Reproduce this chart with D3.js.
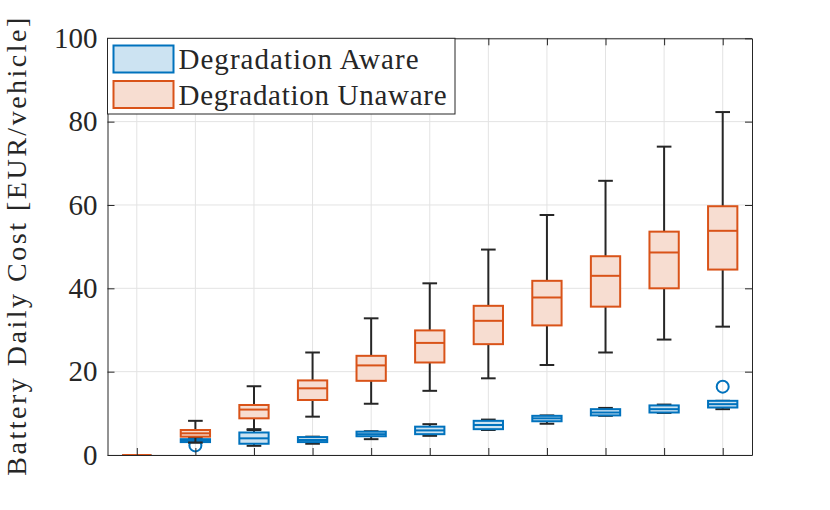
<!DOCTYPE html>
<html>
<head>
<meta charset="utf-8">
<script src="https://cdn.jsdelivr.net/npm/d3@7"></script>
<style>
  body { margin: 0; background: #fff; }
  text { font-family: "Liberation Serif", "Times New Roman", serif; fill: #262626; }
</style>
</head>
<body>
<div id="chart"></div>
<script>
// categories along x (no tick labels in the original)
const categories = [1, 2, 3, 4, 5, 6, 7, 8, 9, 10, 11];
const yTicks = [0, 20, 40, 60, 80, 100];
const seriesNames = ["Degradation Aware", "Degradation Unaware"];

// Degradation Aware
const awareMin = [0, 3.0, 2.2, 2.7, 3.8, 4.6, 6.0, 7.5, 9.4, 10.1, 11.0];
const awareQ1  = [0, 3.1, 2.7, 3.1, 4.5, 5.0, 6.2, 8.1, 9.5, 10.2, 11.4];
const awareMed = [0, 3.4, 4.0, 3.6, 5.0, 5.9, 7.2, 8.8, 10.2, 11.0, 12.2];
const awareQ3  = [0, 3.8, 5.4, 4.3, 5.6, 6.8, 8.2, 9.4, 11.0, 11.9, 13.0];
const awareMax = [0, 4.1, 6.0, 4.4, 5.7, 7.4, 8.5, 9.5, 11.3, 12.1, 13.0];
const awareOutCat = [2, 11];
const awareOutVal = [2.3, 16.4];

// Degradation Unaware
const unawareMin = [0, 3.0, 6.2, 9.2, 12.3, 15.4, 18.4, 21.6, 24.6, 27.7, 30.8];
const unawareQ1  = [0, 4.4, 8.8, 13.2, 17.8, 22.2, 26.6, 31.1, 35.6, 40.0, 44.5];
const unawareMed = [0, 5.2, 10.9, 16.0, 21.5, 26.9, 32.2, 37.8, 43.0, 48.6, 53.8];
const unawareQ3  = [0, 6.0, 12.0, 17.9, 23.8, 29.9, 35.8, 41.8, 47.7, 53.6, 59.7];
const unawareMax = [0, 8.2, 16.5, 24.6, 32.8, 41.2, 49.3, 57.6, 65.8, 74.0, 82.3];
const unawareOutCat = [];
const unawareOutVal = [];

const width = 830, height = 510;
const margin = {top: 38.3, right: 78, bottom: 55, left: 107.5};

const blue = "#0072BD", orange = "#D95319";
const blueFill = "#CCE3F2", orangeFill = "#F7DDD1";
const dark = "#262626";

const svg = d3.select("#chart").append("svg")
    .attr("width", width)
    .attr("height", height);

let x = d3.scaleLinear()
    .domain([0.5, 11.5])
    .range([margin.left, width - margin.right]);

let y = d3.scaleLinear()
    .domain([0, 100])
    .range([height - margin.bottom, margin.top]);

// grid
let grid = svg.append("g").attr("class", "grid");
grid.selectAll("line.gx")
    .data(categories)
    .enter().append("line")
    .attr("x1", d => x(d)).attr("x2", d => x(d))
    .attr("y1", y(0)).attr("y2", y(100))
    .attr("stroke", "#e3e3e3").attr("stroke-width", 1);
grid.selectAll("line.gy")
    .data(yTicks)
    .enter().append("line")
    .attr("x1", x(0.5)).attr("x2", x(11.5))
    .attr("y1", d => y(d)).attr("y2", d => y(d))
    .attr("stroke", "#e3e3e3").attr("stroke-width", 1);

function makeRows(c, mn, q1, md, q3, mx) {
    return c.map((d, i) => ({cat: d, min: mn[i], q1: q1[i], med: md[i], q3: q3[i], max: mx[i]}));
}

const boxW = 0.5, capW = 0.25;

function drawBoxes(rows, outCat, outVal, stroke, fill) {
    let g = svg.append("g");
    let b = g.selectAll("g.box").data(rows).enter().append("g");

    // whiskers
    b.append("line")
        .attr("x1", d => x(d.cat)).attr("x2", d => x(d.cat))
        .attr("y1", d => y(d.q3)).attr("y2", d => y(d.max))
        .attr("stroke", dark).attr("stroke-width", 2);
    b.append("line")
        .attr("x1", d => x(d.cat)).attr("x2", d => x(d.cat))
        .attr("y1", d => y(d.q1)).attr("y2", d => y(d.min))
        .attr("stroke", dark).attr("stroke-width", 2);
    b.append("line")
        .attr("x1", d => x(d.cat - capW / 2)).attr("x2", d => x(d.cat + capW / 2))
        .attr("y1", d => y(d.max)).attr("y2", d => y(d.max))
        .attr("stroke", dark).attr("stroke-width", 2);
    b.append("line")
        .attr("x1", d => x(d.cat - capW / 2)).attr("x2", d => x(d.cat + capW / 2))
        .attr("y1", d => y(d.min)).attr("y2", d => y(d.min))
        .attr("stroke", dark).attr("stroke-width", 2);

    // box
    b.append("rect")
        .attr("x", d => x(d.cat - boxW / 2))
        .attr("width", d => x(d.cat + boxW / 2) - x(d.cat - boxW / 2))
        .attr("y", d => y(d.q3))
        .attr("height", d => y(d.q1) - y(d.q3))
        .attr("fill", fill)
        .attr("stroke", stroke).attr("stroke-width", 2);
    b.append("line")
        .attr("x1", d => x(d.cat - boxW / 2)).attr("x2", d => x(d.cat + boxW / 2))
        .attr("y1", d => y(d.med)).attr("y2", d => y(d.med))
        .attr("stroke", stroke).attr("stroke-width", 2);

    // outliers
    g.selectAll("circle")
        .data(outCat.map((c, i) => ({cat: c, v: outVal[i]})))
        .enter().append("circle")
        .attr("cx", d => x(d.cat)).attr("cy", d => y(d.v))
        .attr("r", 6)
        .attr("fill", "none")
        .attr("stroke", stroke).attr("stroke-width", 2);
}

drawBoxes(makeRows(categories, awareMin, awareQ1, awareMed, awareQ3, awareMax),
    awareOutCat, awareOutVal, blue, blueFill);
drawBoxes(makeRows(categories, unawareMin, unawareQ1, unawareMed, unawareQ3, unawareMax),
    unawareOutCat, unawareOutVal, orange, orangeFill);

// axes (ticks pointing inward, box on)
function styleAxis(g) {
    g.select(".domain").attr("stroke", dark).attr("stroke-width", 1);
    g.selectAll(".tick line").attr("stroke", dark).attr("stroke-width", 1);
}

svg.append("g")
    .attr("transform", "translate(0," + y(0) + ")")
    .call(d3.axisBottom(x).tickValues(categories).tickSize(-7).tickSizeOuter(0).tickFormat(""))
    .call(styleAxis);
svg.append("g")
    .attr("transform", "translate(0," + y(100) + ")")
    .call(d3.axisTop(x).tickValues(categories).tickSize(-7).tickSizeOuter(0).tickFormat(""))
    .call(styleAxis);
svg.append("g")
    .attr("transform", "translate(" + x(11.5) + ",0)")
    .call(d3.axisRight(y).tickValues(yTicks).tickSize(-7).tickSizeOuter(0).tickFormat(""))
    .call(styleAxis);
let yAxis = svg.append("g")
    .attr("transform", "translate(" + x(0.5) + ",0)")
    .call(d3.axisLeft(y).tickValues(yTicks).tickSize(-7).tickSizeOuter(0).tickPadding(10))
    .call(styleAxis);
yAxis.selectAll(".tick text")
    .style("font-family", "'Liberation Serif', serif")
    .style("font-size", "29px")
    .attr("fill", dark);

// y label
svg.append("text")
    .attr("transform", "rotate(-90)")
    .attr("x", -(y(0) + y(100)) / 2)
    .attr("y", 26)
    .attr("text-anchor", "middle")
    .style("font-size", "28px")
    .attr("textLength", 458)
    .attr("lengthAdjust", "spacing")
    .text("Battery Daily Cost [EUR/vehicle]");

// legend
let legend = svg.append("g");
legend.append("rect")
    .attr("x", x(0.5)).attr("y", y(100))
    .attr("width", 455 - x(0.5)).attr("height", 114 - y(100))
    .attr("fill", "#fff").attr("stroke", dark).attr("stroke-width", 1);
const legColors = [[blue, blueFill], [orange, orangeFill]];
const legLengths = [240, 268];
seriesNames.forEach(function(name, i) {
    let cy = 59 + i * 35.5;
    legend.append("rect")
        .attr("x", 113.5).attr("y", cy - 13.5)
        .attr("width", 60).attr("height", 27)
        .attr("fill", legColors[i][1])
        .attr("stroke", legColors[i][0]).attr("stroke-width", 2);
    legend.append("text")
        .attr("x", 178.5).attr("y", cy + 10)
        .style("font-size", "29px")
        .attr("textLength", legLengths[i])
        .attr("lengthAdjust", "spacing")
        .text(name);
});
</script>
</body>
</html>
